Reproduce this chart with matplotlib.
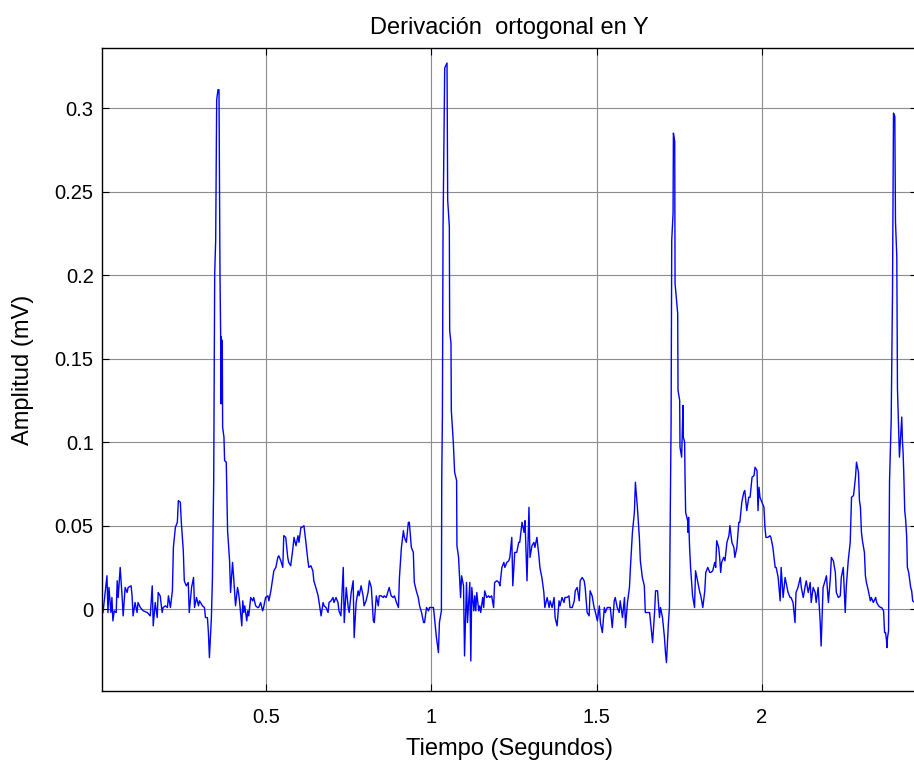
import matplotlib
matplotlib.use("Agg")
import matplotlib.pyplot as plt

# ECG lead Y, time in seconds, amplitude in mV
t = [
    0.006, 0.018, 0.021, 0.024, 0.030, 0.033, 0.036, 0.040, 0.046, 0.049,
    0.052, 0.058, 0.064, 0.067, 0.073, 0.079, 0.082, 0.091, 0.094, 0.097,
    0.103, 0.109, 0.112, 0.119, 0.128, 0.140, 0.149, 0.155, 0.158, 0.164,
    0.170, 0.173, 0.179, 0.185, 0.188, 0.195, 0.201, 0.204, 0.210, 0.216,
    0.219, 0.225, 0.231, 0.234, 0.240, 0.243, 0.249, 0.252, 0.258, 0.264,
    0.267, 0.274, 0.280, 0.283, 0.289, 0.295, 0.298, 0.307, 0.313, 0.316,
    0.322, 0.325, 0.328, 0.334, 0.337, 0.341, 0.344, 0.347, 0.350, 0.354,
    0.357, 0.360, 0.362, 0.363, 0.364, 0.366, 0.367, 0.368, 0.372, 0.374,
    0.379, 0.380, 0.383, 0.389, 0.392, 0.398, 0.401, 0.407, 0.413, 0.416,
    0.419, 0.426, 0.429, 0.432, 0.435, 0.441, 0.444, 0.447, 0.453, 0.459,
    0.462, 0.468, 0.474, 0.477, 0.483, 0.489, 0.492, 0.498, 0.505, 0.508,
    0.514, 0.520, 0.523, 0.529, 0.535, 0.538, 0.544, 0.550, 0.553, 0.559,
    0.565, 0.568, 0.574, 0.581, 0.584, 0.590, 0.596, 0.599, 0.605, 0.608,
    0.614, 0.620, 0.626, 0.629, 0.635, 0.641, 0.644, 0.650, 0.657, 0.660,
    0.666, 0.672, 0.675, 0.681, 0.687, 0.690, 0.696, 0.702, 0.705, 0.711,
    0.717, 0.720, 0.726, 0.733, 0.736, 0.742, 0.748, 0.751, 0.757, 0.763,
    0.766, 0.772, 0.778, 0.781, 0.787, 0.793, 0.796, 0.802, 0.808, 0.812,
    0.818, 0.824, 0.827, 0.833, 0.839, 0.842, 0.848, 0.854, 0.857, 0.863,
    0.869, 0.872, 0.878, 0.884, 0.888, 0.894, 0.900, 0.903, 0.909, 0.915,
    0.918, 0.924, 0.930, 0.933, 0.939, 0.945, 0.948, 0.954, 0.960, 0.964,
    0.970, 0.976, 0.979, 0.985, 0.991, 0.994, 1.000, 1.006, 1.009, 1.015,
    1.021, 1.024, 1.030, 1.031, 1.033, 1.035, 1.040, 1.047, 1.049, 1.054,
    1.055, 1.059, 1.060, 1.066, 1.070, 1.076, 1.077, 1.082, 1.085, 1.088,
    1.091, 1.097, 1.100, 1.106, 1.109, 1.116, 1.119, 1.122, 1.128, 1.131,
    1.134, 1.137, 1.143, 1.146, 1.149, 1.155, 1.158, 1.161, 1.167, 1.173,
    1.176, 1.182, 1.188, 1.191, 1.198, 1.204, 1.207, 1.213, 1.219, 1.222,
    1.228, 1.234, 1.237, 1.243, 1.246, 1.252, 1.258, 1.264, 1.267, 1.274,
    1.280, 1.283, 1.289, 1.295, 1.298, 1.304, 1.310, 1.313, 1.319, 1.325,
    1.328, 1.334, 1.340, 1.343, 1.350, 1.356, 1.359, 1.365, 1.371, 1.374,
    1.380, 1.386, 1.389, 1.395, 1.401, 1.404, 1.410, 1.416, 1.419, 1.426,
    1.432, 1.435, 1.441, 1.447, 1.450, 1.456, 1.462, 1.465, 1.471, 1.477,
    1.480, 1.486, 1.492, 1.495, 1.502, 1.508, 1.511, 1.517, 1.523, 1.526,
    1.532, 1.538, 1.541, 1.547, 1.553, 1.556, 1.562, 1.568, 1.571, 1.578,
    1.584, 1.587, 1.593, 1.599, 1.602, 1.608, 1.614, 1.617, 1.623, 1.629,
    1.632, 1.638, 1.644, 1.647, 1.653, 1.660, 1.663, 1.669, 1.675, 1.678,
    1.684, 1.690, 1.693, 1.699, 1.705, 1.708, 1.711, 1.717, 1.720, 1.725,
    1.727, 1.731, 1.732, 1.736, 1.737, 1.745, 1.746, 1.751, 1.752, 1.757,
    1.761, 1.762, 1.766, 1.767, 1.769, 1.775, 1.776, 1.778, 1.781, 1.784,
    1.790, 1.796, 1.799, 1.805, 1.812, 1.815, 1.821, 1.827, 1.830, 1.836,
    1.842, 1.845, 1.851, 1.857, 1.860, 1.863, 1.869, 1.872, 1.875, 1.878,
    1.884, 1.888, 1.894, 1.900, 1.903, 1.909, 1.915, 1.918, 1.924, 1.930,
    1.933, 1.939, 1.945, 1.948, 1.954, 1.960, 1.964, 1.970, 1.976, 1.979,
    1.985, 1.988, 1.991, 1.994, 2.000, 2.006, 2.009, 2.012, 2.018, 2.024,
    2.027, 2.033, 2.040, 2.043, 2.049, 2.055, 2.058, 2.064, 2.070, 2.073,
    2.079, 2.085, 2.088, 2.094, 2.100, 2.103, 2.109, 2.116, 2.119, 2.125,
    2.131, 2.134, 2.140, 2.146, 2.149, 2.155, 2.161, 2.164, 2.170, 2.176,
    2.179, 2.185, 2.191, 2.195, 2.201, 2.207, 2.210, 2.216, 2.222, 2.225,
    2.231, 2.237, 2.240, 2.246, 2.252, 2.255, 2.261, 2.267, 2.271, 2.277,
    2.283, 2.286, 2.292, 2.295, 2.298, 2.301, 2.304, 2.310, 2.313, 2.316,
    2.322, 2.328, 2.331, 2.337, 2.344, 2.347, 2.353, 2.359, 2.362, 2.368,
    2.371, 2.374, 2.377, 2.378, 2.380, 2.383, 2.386, 2.391, 2.395, 2.398,
    2.402, 2.404, 2.408, 2.410, 2.416, 2.423, 2.425, 2.427, 2.429, 2.432,
    2.435, 2.438, 2.440, 2.444, 2.450, 2.453, 2.456, 2.462, 2.465, 2.468,
]

amp = [
    -0.002, 0.020, -0.002, 0.013, -0.002, 0.007, -0.007, -0.001, -0.002, 0.017,
    0.007, 0.025, 0.007, -0.004, 0.013, 0.010, 0.013, 0.014, 0.008, -0.004,
    0.004, -0.002, 0.004, 0.001, -0.001, -0.002, -0.004, 0.014, -0.010, 0.004,
    -0.005, 0.010, 0.008, -0.002, 0.001, 0.002, 0.001, 0.008, 0.001, 0.011,
    0.037, 0.049, 0.052, 0.065, 0.064, 0.052, 0.035, 0.017, 0.014, 0.016,
    -0.002, 0.013, 0.019, 0.001, 0.007, 0.002, 0.005, 0.002, 0.001, -0.005,
    -0.005, -0.014, -0.029, -0.005, 0.017, 0.077, 0.201, 0.221, 0.305, 0.311,
    0.311, 0.201, 0.164, 0.123, 0.163, 0.123, 0.161, 0.109, 0.103, 0.089,
    0.088, 0.077, 0.047, 0.029, 0.010, 0.028, 0.020, 0.002, 0.013, 0.010,
    0.005, -0.010, 0.005, -0.002, 0.002, -0.007, -0.001, -0.004, 0.007, 0.005,
    0.007, 0.002, 0.001, 0.001, 0.004, -0.001, 0.001, 0.007, 0.008, 0.005,
    0.011, 0.019, 0.023, 0.025, 0.031, 0.032, 0.029, 0.025, 0.044, 0.043,
    0.031, 0.028, 0.026, 0.037, 0.043, 0.038, 0.044, 0.040, 0.049, 0.049,
    0.050, 0.040, 0.029, 0.025, 0.026, 0.023, 0.017, 0.013, 0.008, 0.004,
    -0.004, 0.004, 0.002, 0.001, -0.002, 0.004, 0.005, 0.007, 0.004, 0.007,
    0.004, -0.001, -0.004, 0.025, -0.008, 0.013, 0.001, -0.002, 0.010, 0.017,
    -0.017, 0.004, 0.011, 0.008, 0.014, 0.008, 0.002, 0.005, 0.010, 0.017,
    0.013, -0.007, -0.008, 0.008, 0.002, 0.008, 0.008, 0.007, 0.008, 0.007,
    0.011, 0.013, 0.008, 0.007, 0.008, 0.004, 0.001, 0.019, 0.037, 0.047,
    0.043, 0.040, 0.052, 0.052, 0.037, 0.034, 0.016, 0.011, 0.007, 0.002,
    -0.002, -0.008, -0.008, 0.001, -0.001, 0.001, 0.001, 0.001, -0.005, -0.017,
    -0.026, -0.008, -0.001, 0.077, 0.115, 0.229, 0.324, 0.327, 0.245, 0.229,
    0.167, 0.159, 0.119, 0.100, 0.082, 0.077, 0.038, 0.031, 0.019, 0.007,
    0.020, 0.014, -0.028, 0.016, -0.008, 0.016, -0.031, 0.013, -0.001, 0.008,
    -0.001, 0.010, -0.001, 0.002, -0.002, 0.007, 0.001, 0.011, 0.007, 0.008,
    0.007, 0.008, 0.001, 0.016, 0.017, 0.016, 0.014, 0.025, 0.028, 0.025,
    0.028, 0.029, 0.031, 0.043, 0.014, 0.034, 0.034, 0.040, 0.040, 0.052,
    0.046, 0.053, 0.017, 0.061, 0.031, 0.038, 0.040, 0.037, 0.043, 0.032,
    0.025, 0.019, 0.010, 0.001, 0.007, 0.001, 0.005, 0.001, 0.007, -0.005,
    -0.010, 0.005, 0.002, 0.007, 0.004, 0.007, 0.007, 0.008, 0.001, 0.001,
    0.005, 0.011, 0.013, 0.005, 0.017, 0.019, 0.017, 0.013, -0.002, -0.004,
    0.011, 0.008, 0.001, -0.001, -0.007, 0.002, -0.008, -0.014, 0.001, -0.002,
    0.001, 0.001, 0.001, -0.011, 0.005, 0.007, 0.001, -0.002, 0.005, -0.005,
    0.007, -0.011, 0.004, 0.013, 0.025, 0.046, 0.058, 0.076, 0.061, 0.043,
    0.029, 0.019, 0.014, -0.002, -0.002, -0.002, -0.008, -0.020, -0.002, 0.011,
    0.011, -0.005, 0.001, -0.005, -0.017, -0.026, -0.032, -0.008, 0.001, 0.111,
    0.221, 0.237, 0.285, 0.280, 0.195, 0.177, 0.131, 0.125, 0.097, 0.091,
    0.122, 0.103, 0.100, 0.082, 0.058, 0.053, 0.046, 0.055, 0.037, 0.025,
    0.008, 0.001, 0.023, 0.017, 0.010, 0.008, 0.001, 0.011, 0.022, 0.025,
    0.022, 0.022, 0.023, 0.028, 0.025, 0.041, 0.037, 0.031, 0.022, 0.028,
    0.031, 0.029, 0.040, 0.044, 0.050, 0.040, 0.037, 0.031, 0.037, 0.052,
    0.052, 0.064, 0.070, 0.071, 0.059, 0.067, 0.067, 0.079, 0.080, 0.085,
    0.083, 0.059, 0.073, 0.067, 0.064, 0.061, 0.049, 0.043, 0.043, 0.044,
    0.043, 0.037, 0.025, 0.025, 0.019, 0.005, 0.025, 0.007, 0.019, 0.016,
    0.010, 0.007, 0.007, 0.004, -0.008, 0.010, 0.013, 0.019, 0.013, 0.007,
    0.014, 0.017, 0.010, 0.016, 0.004, 0.013, 0.010, 0.004, 0.013, -0.007,
    -0.022, 0.013, 0.017, 0.020, 0.004, 0.019, 0.031, 0.029, 0.022, 0.010,
    0.007, 0.008, 0.019, 0.025, -0.002, 0.013, 0.029, 0.040, 0.067, 0.068,
    0.079, 0.088, 0.082, 0.065, 0.061, 0.046, 0.041, 0.034, 0.020, 0.016,
    0.011, 0.005, 0.007, 0.004, 0.007, 0.004, 0.002, 0.001, 0.001, -0.001,
    -0.014, -0.014, -0.019, -0.023, -0.017, -0.013, 0.077, 0.113, 0.189, 0.297,
    0.295, 0.232, 0.211, 0.132, 0.091, 0.115, 0.101, 0.094, 0.082, 0.059,
    0.053, 0.043, 0.025, 0.022, 0.013, 0.011, 0.005, 0.004, -0.001, -0.007,
]

x_ticks = [0.5, 1, 1.5, 2]
x_tick_labels = ["0.5", "1", "1.5", "2"]
y_ticks = [0, 0.05, 0.1, 0.15, 0.2, 0.25, 0.3]
y_tick_labels = ["0", "0.05", "0.1", "0.15", "0.2", "0.25", "0.3"]

plt.rcParams["font.family"] = ["Liberation Sans", "DejaVu Sans"]

fig = plt.figure(figsize=(9.14, 7.65), dpi=100)
ax = fig.add_axes([0.1116, 0.0967, 0.892, 0.8406])

ax.plot(t, amp, color="#0000ff", linewidth=1.0)

ax.set_xlim(0.003, 2.47)
ax.set_ylim(-0.049, 0.336)
ax.set_xticks(x_ticks)
ax.set_xticklabels(x_tick_labels)
ax.set_yticks(y_ticks)
ax.set_yticklabels(y_tick_labels)

ax.grid(True, color="#8c8c8c", linewidth=0.8)
ax.tick_params(direction="in", length=5, width=0.8, top=True, right=True,
               labelsize=14.5, colors="black")
ax.tick_params(axis="x", pad=12)
ax.tick_params(axis="y", pad=6)
for side in ax.spines.values():
    side.set_linewidth(1.0)

ax.set_title("Derivación  ortogonal en Y", fontsize=17, pad=10)
ax.set_xlabel("Tiempo (Segundos)", fontsize=17, labelpad=8)
ax.set_ylabel("Amplitud (mV)", fontsize=17, labelpad=15)

fig.savefig("out.png", dpi=100)
